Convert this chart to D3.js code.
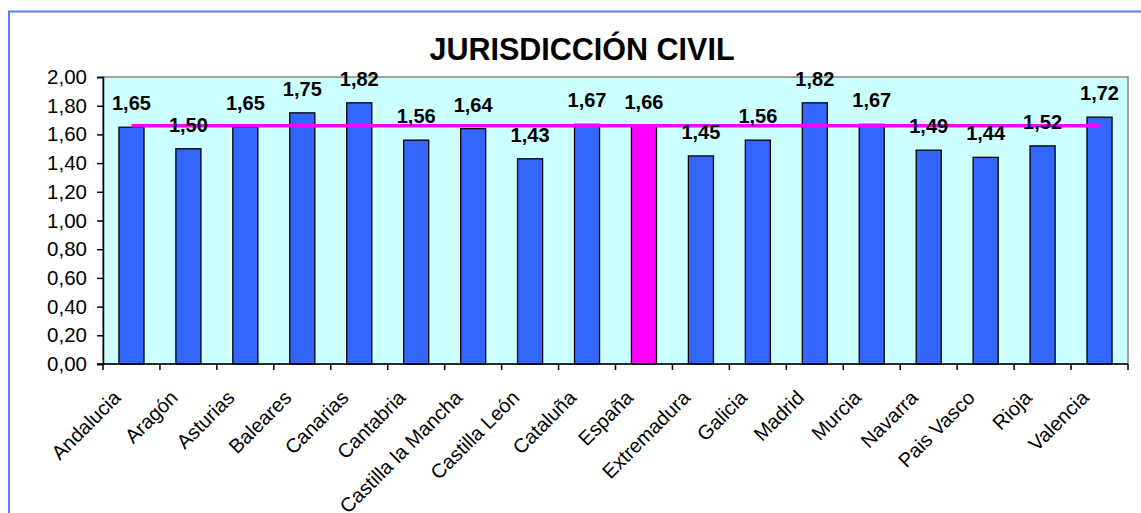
<!DOCTYPE html>
<html>
<head>
<meta charset="utf-8">
<script src="https://cdn.jsdelivr.net/npm/d3@7"></script>
<style>
    body { margin: 0; background: #fff; }
    svg { display: block; font-family: Arial, "Liberation Sans", sans-serif; }
</style>
</head>
<body>
<svg class="chart"></svg>
<script>
var regions = ["Andalucia", "Aragón", "Asturias", "Baleares", "Canarias", "Cantabria",
    "Castilla la Mancha", "Castilla León", "Cataluña", "España", "Extremadura", "Galicia",
    "Madrid", "Murcia", "Navarra", "Pais Vasco", "Rioja", "Valencia"];
var values = [1.65, 1.50, 1.65, 1.75, 1.82, 1.56, 1.64, 1.43, 1.67, 1.66, 1.45, 1.56,
    1.82, 1.67, 1.49, 1.44, 1.52, 1.72];
var yTicks = [0, 0.2, 0.4, 0.6, 0.8, 1.0, 1.2, 1.4, 1.6, 1.8, 2.0];
var average = 1.66;   // valor de España
var titleText = "JURISDICCIÓN CIVIL";

var width = 1141,
    height = 513;
var plot = {left: 103, right: 1128, top: 77, bottom: 364};

var svg = d3.select(".chart")
    .attr("width", width)
    .attr("height", height);

var fmt = function(v) { return d3.format(".2f")(v).replace(".", ","); };

// outer frame
svg.append("rect")
    .attr("x", 9).attr("y", 11.5)
    .attr("width", 1200).attr("height", 600)
    .attr("fill", "#fff")
    .attr("stroke", "#5a7dff")
    .attr("stroke-width", 2);

var x = d3.scaleBand()
    .domain(regions)
    .range([plot.left, plot.right])
    .paddingInner(0.56)
    .paddingOuter(0.28);

var y = d3.scaleLinear()
    .domain([0, 2])
    .range([plot.bottom, plot.top]);

// plot area
svg.append("rect")
    .attr("x", plot.left).attr("y", plot.top)
    .attr("width", plot.right - plot.left)
    .attr("height", plot.bottom - plot.top)
    .attr("fill", "#ccffff")
    .attr("stroke", "#888")
    .attr("stroke-width", 1.5);

// title
svg.append("text")
    .attr("x", 582)
    .attr("y", 59.5)
    .attr("text-anchor", "middle")
    .attr("font-size", 30.5)
    .attr("font-weight", "bold")
    .text(titleText);

// bars
svg.append("g").selectAll("rect")
    .data(regions).enter().append("rect")
    .attr("x", function(d) { return x(d); })
    .attr("y", function(d, i) { return y(values[i]); })
    .attr("width", x.bandwidth())
    .attr("height", function(d, i) { return y(0) - y(values[i]); })
    .attr("fill", function(d) { return d == "España" ? "#ff00ff" : "#3366ff"; })
    .attr("stroke", "#000")
    .attr("stroke-width", 1.3);

// average line
svg.append("line")
    .attr("x1", x(regions[0]) + x.bandwidth() / 2)
    .attr("x2", x(regions[regions.length - 1]) + x.bandwidth() / 2)
    .attr("y1", y(average))
    .attr("y2", y(average))
    .attr("stroke", "#ff00ff")
    .attr("stroke-width", 3.5);

// y axis
var yAxis = d3.axisLeft(y)
    .tickValues(yTicks)
    .tickSize(6)
    .tickPadding(10)
    .tickFormat(fmt);
var gy = svg.append("g")
    .attr("transform", "translate(" + plot.left + ",0)")
    .call(yAxis);
gy.select(".domain").attr("stroke", "#000").attr("stroke-width", 1.5);
gy.selectAll(".tick line").attr("stroke", "#000").attr("stroke-width", 1.5);
gy.selectAll(".tick text")
    .attr("font-size", 20.5)
    .attr("font-family", "Arial, 'Liberation Sans', sans-serif")
    .attr("fill", "#000");

// x axis line + ticks between categories
svg.append("line")
    .attr("x1", plot.left - 6).attr("x2", plot.right)
    .attr("y1", plot.bottom).attr("y2", plot.bottom)
    .attr("stroke", "#000").attr("stroke-width", 1.5);
svg.append("g").selectAll("line")
    .data(d3.range(regions.length + 1)).enter().append("line")
    .attr("x1", function(i) { return plot.left + i * x.step(); })
    .attr("x2", function(i) { return plot.left + i * x.step(); })
    .attr("y1", plot.bottom)
    .attr("y2", plot.bottom + 6)
    .attr("stroke", "#000").attr("stroke-width", 1.5);

// category labels
svg.append("g").selectAll("text")
    .data(regions).enter().append("text")
    .attr("transform", function(d) {
        return "translate(" + (x(d) + x.bandwidth() / 2 - 9.5) + "," + (plot.bottom + 35) + ") rotate(-45)";
    })
    .attr("text-anchor", "end")
    .attr("font-size", 20)
    .text(function(d) { return d; });

// value labels
svg.append("g").selectAll("text")
    .data(regions).enter().append("text")
    .attr("x", function(d) { return x(d) + x.bandwidth() / 2; })
    .attr("y", function(d, i) { return y(values[i]) - 17; })
    .attr("text-anchor", "middle")
    .attr("font-size", 20)
    .attr("font-weight", "bold")
    .text(function(d, i) { return fmt(values[i]); });
</script>
</body>
</html>
